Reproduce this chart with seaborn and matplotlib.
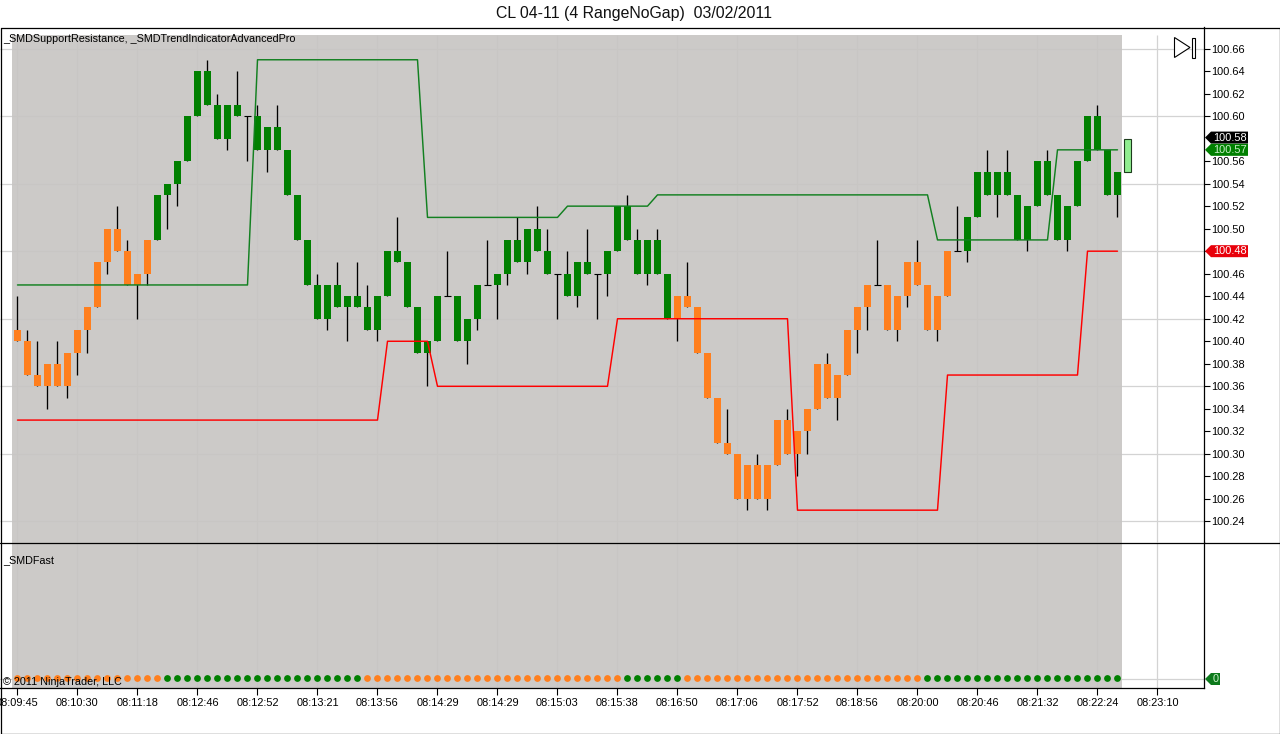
# CL 04-11 range chart, NinjaTrader style
import matplotlib
matplotlib.use("Agg")
import matplotlib.pyplot as plt
import numpy as np
import pandas as pd
import seaborn as sns
from matplotlib.patches import Polygon, Rectangle

# prices are in hundredths above 100.00
body_top = [41, 40, 37, 38, 38, 39, 41, 43, 47, 50, 50, 48, 46, 49, 53, 54, 56, 60, 64, 64,
            61, 61, 61, 60, 60, 59, 59, 57, 53, 49, 45, 45, 45, 44, 44, 43, 44, 48, 48, 47,
            43, 40, 44, 44, 44, 42, 45, 45, 46, 49, 49, 50, 50, 48, 46, 46, 47, 47, 46, 48,
            52, 52, 49, 49, 49, 46, 44, 44, 43, 39, 35, 31, 30, 29, 29, 29, 33, 33, 32, 34,
            38, 38, 37, 41, 43, 45, 45, 45, 44, 47, 47, 45, 44, 48, 48, 51, 55, 55, 55, 55,
            53, 52, 56, 56, 53, 52, 56, 60, 60, 57, 55]
body_bottom = [40, 37, 36, 36, 36, 36, 39, 41, 43, 47, 48, 45, 45, 46, 49, 53, 54, 56, 60, 61,
               58, 58, 60, 60, 57, 57, 57, 53, 49, 45, 42, 42, 43, 43, 43, 41, 41, 44, 47, 43,
               39, 39, 40, 44, 40, 40, 42, 45, 45, 46, 47, 47, 48, 46, 46, 44, 44, 46, 46, 46,
               48, 49, 46, 46, 46, 42, 42, 43, 39, 35, 31, 30, 26, 26, 26, 26, 29, 30, 30, 32,
               34, 35, 35, 37, 41, 43, 45, 41, 41, 44, 45, 41, 41, 44, 48, 48, 51, 53, 53, 53,
               49, 49, 52, 53, 49, 49, 52, 56, 57, 53, 53]
wick_high = [44, 41, 40, 38, 40, 39, 41, 43, 47, 50, 52, 49, 46, 49, 53, 54, 56, 60, 64, 65,
             62, 61, 64, 60, 61, 59, 61, 57, 53, 49, 46, 45, 47, 44, 47, 45, 44, 48, 51, 47,
             43, 40, 44, 48, 44, 42, 45, 49, 46, 49, 51, 50, 52, 50, 46, 48, 47, 50, 46, 48,
             52, 53, 50, 49, 50, 46, 44, 47, 43, 39, 35, 34, 30, 29, 30, 29, 33, 34, 32, 34,
             38, 39, 37, 41, 43, 45, 49, 45, 44, 47, 49, 45, 44, 48, 52, 51, 55, 57, 55, 57,
             53, 52, 56, 57, 53, 52, 56, 60, 61, 57, 55]
wick_low = [40, 37, 36, 34, 36, 35, 37, 39, 43, 46, 48, 45, 42, 45, 49, 50, 52, 56, 60, 61,
            58, 57, 60, 56, 57, 55, 57, 53, 49, 45, 42, 41, 43, 40, 43, 41, 40, 44, 47, 43,
            39, 36, 40, 44, 40, 38, 41, 45, 42, 45, 47, 46, 48, 46, 42, 44, 43, 46, 42, 44,
            48, 49, 46, 45, 46, 42, 40, 43, 39, 35, 31, 30, 26, 25, 26, 25, 29, 30, 28, 30,
            34, 35, 33, 37, 39, 41, 45, 41, 40, 43, 45, 41, 40, 44, 48, 47, 51, 53, 51, 53,
            49, 48, 52, 53, 49, 48, 52, 56, 57, 53, 51]
# bars in each trend colour, in order
candle_runs = [("orange", 14), ("green", 52), ("orange", 28), ("green", 17)]
dot_runs = [("orange", 15), ("green", 20), ("orange", 26), ("green", 6), ("orange", 24), ("green", 20)]

resistance_runs = [(45, 24), (65, 17), (51, 14), (52, 9), (53, 28), (49, 12), (57, 7)]
support_runs = [(33, 37), (40, 5), (36, 18), (42, 18), (25, 15), (37, 14), (48, 4)]

current_bar = [55, 58]  # unfinished bar right of the last candle

price_ticks = [100.24, 100.26, 100.28, 100.30, 100.32, 100.34, 100.36, 100.38, 100.40, 100.42, 100.44,
               100.46, 100.48, 100.50, 100.52, 100.54, 100.56, 100.60, 100.62, 100.64, 100.66]
grid_prices = [100.24, 100.30, 100.36, 100.42, 100.48, 100.54, 100.60, 100.66]
time_labels = ["08:09:45", "08:10:30", "08:11:18", "08:12:46", "08:12:52", "08:13:21", "08:13:56",
               "08:14:29", "08:14:29", "08:15:03", "08:15:38", "08:16:50", "08:17:06", "08:17:52",
               "08:18:56", "08:20:00", "08:20:46", "08:21:32", "08:22:24", "08:23:10"]
time_bars = [0, 6, 12, 18, 24, 30, 36, 42, 48, 54, 60, 66, 72, 78, 84, 90, 96, 102, 108, 114]

ORANGE = "#ff7f1e"
GREEN = "#008000"
RED = "#ff0000"
PANEL = "#c7c5c3"  # drawn over the grid at alpha .91 so the lines go faint on grey
GRID = "#d3d3d3"

sns.set_theme(style="ticks", rc={"axes.linewidth": 0.9})
plt.rcParams["font.family"] = ["Liberation Sans", "DejaVu Sans"]

W, H = 1280, 734
PX_PER_CENT = 11.26
Y_100_66 = 48.5


def px_to_price(y):
    return 100.66 - (y - Y_100_66) / PX_PER_CENT / 100


def price_to_px(p):
    return Y_100_66 + (100.66 - p) * 100 * PX_PER_CENT


def px_to_bar(x):
    return (x - 17.5) / 10


bars = pd.DataFrame({
    "bar": np.arange(len(body_top)),
    "top": 100 + np.array(body_top) / 100,
    "bottom": 100 + np.array(body_bottom) / 100,
    "high": 100 + np.array(wick_high) / 100,
    "low": 100 + np.array(wick_low) / 100,
    "candle": [c for c, n in candle_runs for _ in range(n)],
    "dot": [c for c, n in dot_runs for _ in range(n)],
    "resistance": [100 + v / 100 for v, n in resistance_runs for _ in range(n)],
    "support": [100 + v / 100 for v, n in support_runs for _ in range(n)],
})

fig = plt.figure(figsize=(W / 100, H / 100), dpi=100, facecolor="white")
ax = fig.add_axes([0, (H - 542) / H, 1204 / W, (542 - 27) / H])
ax2 = fig.add_axes([0, (H - 688) / H, 1204 / W, (688 - 542) / H])
xlim = (px_to_bar(0), px_to_bar(1204))

# price panel
ax.set_xlim(xlim)
ax.set_ylim(px_to_price(542), px_to_price(27))
ax.hlines(grid_prices, xlim[0], xlim[1], color=GRID, lw=0.9, zorder=0)
ax.vlines(time_bars, px_to_price(542), px_to_price(35), color=GRID, lw=0.9, zorder=0)
ax.axvspan(px_to_bar(12), px_to_bar(1122), ymin=0, ymax=(542 - 35) / (542 - 27), color=PANEL, alpha=0.91, lw=0, zorder=1)

ax.vlines(bars["bar"], bars["low"], bars["high"], color="black", lw=0.95, zorder=2)
solid = bars[bars["top"] > bars["bottom"]]
ax.bar(solid["bar"], solid["top"] - solid["bottom"], bottom=solid["bottom"], width=0.7,
       color=solid["candle"].map({"orange": ORANGE, "green": GREEN}), lw=0, zorder=3)
doji = bars[bars["top"] == bars["bottom"]]
ax.hlines(doji["top"], doji["bar"] - 0.35, doji["bar"] + 0.35, color="black", lw=0.8, zorder=3)
ax.bar([111], [(current_bar[1] - current_bar[0]) / 100], bottom=[100 + current_bar[0] / 100], width=0.62,
       color="#90ee90", edgecolor="#1c3c1c", lw=0.8, zorder=3)

sns.lineplot(data=bars, x="bar", y="resistance", color="#128020", lw=1.05, ax=ax, estimator=None, zorder=4)
sns.lineplot(data=bars, x="bar", y="support", color=RED, lw=1.05, ax=ax, estimator=None, zorder=4)

ax.yaxis.tick_right()
ax.set_yticks(price_ticks)
ax.set_yticklabels([f"{p:.2f}" for p in price_ticks], fontsize=7.9, color="black")
ax.tick_params(axis="y", length=4.3, width=0.8, pad=0.6, color="black")
ax.set_xticks([])
ax.set_xlabel("")
ax.set_ylabel("")
for side in ["top", "left", "bottom"]:
    ax.spines[side].set_visible(False)
ax.spines["right"].set_color("black")

# indicator panel
ax2.set_xlim(xlim)
ax2.set_ylim(-9.5, 136.5)
ax2.axhline(0, color=GRID, lw=0.9, zorder=0)
ax2.vlines(time_bars, -9.5, 136.5, color=GRID, lw=0.9, zorder=0)
ax2.axvspan(px_to_bar(12), px_to_bar(1122), color=PANEL, alpha=0.91, lw=0, zorder=1)
sns.scatterplot(x=bars["bar"], y=np.zeros(len(bars)), hue=bars["dot"], palette={"orange": ORANGE, "green": GREEN},
                s=24, linewidth=0, legend=False, ax=ax2, zorder=3)
ax2.set_xticks(time_bars)
ax2.set_xticklabels(time_labels, fontsize=7.9, color="black")
ax2.tick_params(axis="x", length=4.8, width=0.8, pad=2.4, color="black")
ax2.set_yticks([])
ax2.set_xlabel("")
ax2.set_ylabel("")
ax2.spines["top"].set_visible(False)
ax2.spines["left"].set_visible(False)
ax2.spines["right"].set_visible(True)
ax2.spines["bottom"].set_color("black")
ax2.spines["right"].set_color("black")

# pixel overlay for frame, tags and captions
ov = fig.add_axes([0, 0, 1, 1], facecolor="none")
ov.set_xlim(0, W)
ov.set_ylim(H, 0)
ov.axis("off")
ov.plot([0.5, 1279.5, 1279.5, 0.5, 0.5], [27.5, 27.5, 733.5, 733.5, 27.5], color="black", lw=0.9, clip_on=False)
ov.plot([0, 1280], [542.5, 542.5], color="black", lw=0.9)


def tag(y, text, fill, text_color, right=1248):
    pts = [(1205, y), (1211, y - 6), (right, y - 6), (right, y + 6), (1211, y + 6)]
    ov.add_patch(Polygon(pts, closed=True, fc=fill, ec="none", zorder=5))
    ov.text((1211 + right) / 2 + 0.5, y + 0.3, text, fontsize=7.9, color=text_color, ha="center", va="center", zorder=6)


tag(price_to_px(100.58) - 1, "100.58", "black", "white")
tag(price_to_px(100.57), "100.57", GREEN, "#c8f0c8")
tag(price_to_px(100.48), "100.48", "#e8000a", "white")
tag(679, "0", "#0d7a1c", "#c8f0c8", right=1220)

ov.text(634, 13.5, "CL 04-11 (4 RangeNoGap)  03/02/2011", fontsize=11.4, color="#111111", ha="center", va="center")
ov.text(3, 39, "_SMDSupportResistance, _SMDTrendIndicatorAdvancedPro", fontsize=7.75, color="black", va="center")
ov.text(3, 560.5, "_SMDFast", fontsize=7.75, color="black", va="center")
ov.text(3, 682, "\u00a9 2011 NinjaTrader, LLC", fontsize=7.75, color="black", va="center", zorder=6)

# skip-to-end button
ov.add_patch(Polygon([(1174.5, 37.5), (1174.5, 57.5), (1190, 47.5)], closed=True, fc="white", ec="black", lw=0.8))
ov.add_patch(Rectangle((1191.5, 37.5), 3, 20, fc="white", ec="black", lw=0.8))

fig.savefig("out.png", dpi=100, facecolor="white")
